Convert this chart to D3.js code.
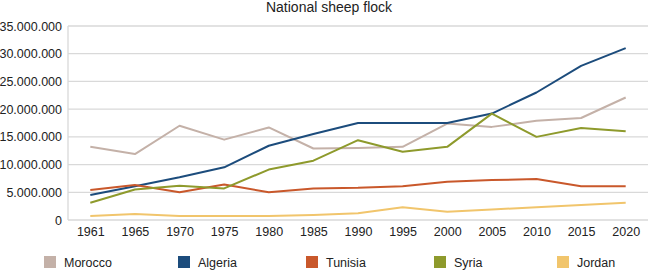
<!DOCTYPE html>
<html>
<head>
<meta charset="utf-8" />
<title>National sheep flock</title>
<script src="https://d3js.org/d3.v7.min.js"></script>
<style type="text/css">
body { margin: 0; background: #fff; }
text { font-family: "Liberation Sans", Arial, sans-serif; fill: #222; }
</style>
</head>
<body>
<div id="svg"></div>
<script type="text/javascript">
var width = 650,
    height = 270;

var years = ["1961", "1965", "1970", "1975", "1980", "1985", "1990", "1995", "2000", "2005", "2010", "2015", "2020"];
var yTicks = [0, 5000000, 10000000, 15000000, 20000000, 25000000, 30000000, 35000000];

// millions of head
var morocco = [13.2, 11.9, 17.0, 14.5, 16.7, 12.9, 13.0, 13.2, 17.4, 16.8, 17.9, 18.4, 22.1];
var algeria = [4.5, 6.1, 7.7, 9.5, 13.4, 15.5, 17.5, 17.5, 17.5, 19.2, 23.0, 27.8, 31.0];
var tunisia = [5.4, 6.3, 5.0, 6.4, 5.0, 5.7, 5.8, 6.1, 6.9, 7.2, 7.4, 6.1, 6.1];
var syria = [3.1, 5.5, 6.2, 5.7, 9.1, 10.7, 14.4, 12.3, 13.2, 19.2, 15.0, 16.6, 16.0];
var jordan = [0.7, 1.1, 0.7, 0.7, 0.7, 0.9, 1.2, 2.3, 1.5, 1.9, 2.3, 2.7, 3.1];

var series = [
  { name: "Morocco", values: morocco, color: "#c4b1a8" },
  { name: "Algeria", values: algeria, color: "#1c4c7c" },
  { name: "Tunisia", values: tunisia, color: "#c9582b" },
  { name: "Syria", values: syria, color: "#8e9a2c" },
  { name: "Jordan", values: jordan, color: "#f1c56c" }
];

var plotLeft = 68, plotRight = 648, plotTop = 26, plotBottom = 220;

var svg = d3.select("#svg")
    .append("svg")
    .attr("width", width)
    .attr("height", height);

var xScale = d3.scalePoint()
    .domain(years)
    .range([plotLeft, plotRight])
    .padding(0.5);

var yScale = d3.scaleLinear()
    .domain([0, 35000000])
    .range([plotBottom, plotTop]);

svg.append("text")
    .attr("x", 329)
    .attr("y", 12)
    .attr("text-anchor", "middle")
    .style("font-size", "14px")
    .text("National sheep flock");

// grid
svg.append("g")
    .selectAll("line")
    .data(yTicks)
    .enter()
    .append("line")
    .attr("x1", plotLeft)
    .attr("x2", plotRight)
    .attr("y1", d => yScale(d))
    .attr("y2", d => yScale(d))
    .attr("stroke", "#d9d9d9")
    .attr("stroke-width", 1.3);

svg.append("line")
    .attr("x1", plotLeft).attr("x2", plotLeft)
    .attr("y1", plotTop).attr("y2", plotBottom)
    .attr("stroke", "#d9d9d9")
    .attr("stroke-width", 1.3);

var fmt = d => d3.format(",")(d).replace(/,/g, ".");

var yAxis = d3.axisLeft(yScale)
    .tickValues(yTicks)
    .tickFormat(fmt)
    .tickSize(0)
    .tickPadding(6);

var gY = svg.append("g")
    .attr("transform", "translate(" + plotLeft + ",0)")
    .call(yAxis);
gY.select(".domain").remove();
gY.selectAll("text").style("font-size", "12.5px").attr("fill", "#222");

var xAxis = d3.axisBottom(xScale)
    .tickSize(0)
    .tickPadding(7);

var gX = svg.append("g")
    .attr("transform", "translate(0," + plotBottom + ")")
    .call(xAxis);
gX.select(".domain").remove();
gX.selectAll("text").style("font-size", "12.5px").attr("fill", "#222");

var line = d3.line()
    .x((d, i) => xScale(years[i]))
    .y(d => yScale(d * 1000000));

svg.append("g")
    .selectAll("path")
    .data(series)
    .enter()
    .append("path")
    .attr("d", d => line(d.values))
    .attr("fill", "none")
    .attr("stroke", d => d.color)
    .attr("stroke-width", 2)
    .attr("stroke-linejoin", "round");

// legend
var legendX = [44, 178, 306, 434, 557];

var legend = svg.append("g")
    .selectAll("g")
    .data(series)
    .enter()
    .append("g")
    .attr("transform", (d, i) => "translate(" + legendX[i] + ",256)");

legend.append("rect")
    .attr("width", 12)
    .attr("height", 12)
    .attr("fill", d => d.color);

legend.append("text")
    .attr("x", 20)
    .attr("y", 10.5)
    .style("font-size", "12.5px")
    .text(d => d.name);
</script>
</body>
</html>
